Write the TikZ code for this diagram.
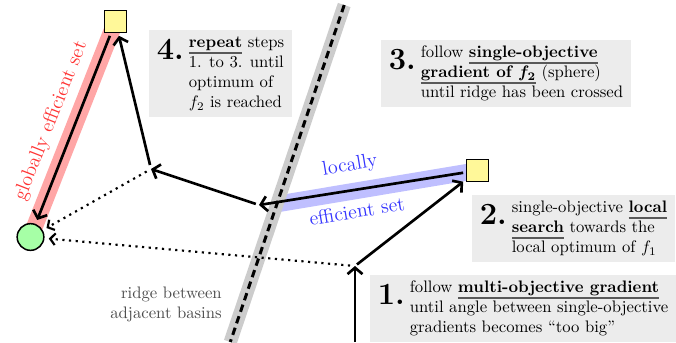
\documentclass[tikz,border=0pt]{standalone}
\usetikzlibrary{arrows.meta}
\definecolor{ylw}{RGB}{255,248,153}
\definecolor{grn}{RGB}{166,255,166}
\definecolor{boxgray}{RGB}{236,236,236}
\newsavebox\kwbox
\newcommand\stepnum[1]{\raisebox{-7.2pt}{\fontsize{18.5pt}{20pt}\selectfont\bfseries #1}}
\newcommand\kw[1]{\sbox\kwbox{\textbf{#1}}\rlap{\color{black!65}\rule[-3.6pt]{\wd\kwbox}{0.8pt}}\usebox\kwbox}
\begin{document}
\begin{tikzpicture}[x=0.6pt,y=-0.6pt,
  box/.style={fill=boxgray, inner xsep=4.5pt, inner ysep=2pt, anchor=north west, align=left},
  arr/.style={line width=1.6pt, -{Straight Barb[length=3.8pt,width=9pt]}},
  dotarr/.style={line width=1.3pt, dash pattern=on 1.3pt off 2.7pt, -{Straight Barb[length=3pt,width=7pt]}},
  sq/.style={draw, line width=0.9pt, fill=ylw, minimum size=13.2pt, inner sep=0pt, outer sep=2pt},
  goal/.style={draw, circle, line width=0.9pt, fill=grn, minimum size=16pt, inner sep=0pt, outer sep=3pt},
  band/.style={line width=10pt}
]
\useasboundingbox (0,0) rectangle (676,342);

% positions
\coordinate (Pb) at (355,342);
\coordinate (P1) at (355,266);
\coordinate (P2) at (259,205);
\coordinate (P3) at (151,169);
\coordinate (bl) at (277,204);
\coordinate (rt) at (344.2,5);
\coordinate (rb) at (230.3,342);

% bands
\draw[band, red!35] (115.5,21.5) -- (30.5,237);
\draw[band, blue!25] (bl) -- (477.5,170.5);

% ridge
\draw[line width=8pt, black!20] (rt) -- (rb);
\draw[line width=1.8pt, dash pattern=on 4.5pt off 2.8pt] (rt) -- (rb);

% markers
\node[sq] (sq1) at (115.5,21.5) {};
\node[sq] (sq2) at (477.5,170.5) {};
\node[goal] (g) at (30.5,237) {};

% arrows
\draw[arr] (Pb) -- (P1);
\draw[arr, shorten <=1.5pt] (P1) -- (sq2);
\draw[arr] (sq2) -- (P2);
\draw[arr, shorten <=2pt] (P2) -- (P3);
\draw[arr, shorten <=2.5pt] (P3) -- (sq1);
\draw[arr] (sq1) -- (g);
\draw[dotarr, shorten <=3pt] (P3) -- (g);
\draw[dotarr, shorten <=3pt] (P1) -- (g);

% labels
\node[text=blue!80, rotate=9.5, font=\large] (loc) at (350,166) {locally};
\node[text=blue!80, rotate=9.5, font=\large] (eff) at (357,211) {efficient set};
\node[text=red!80, rotate=68.5, font=\large] (glob) at (51,121) {globally efficient set};
\node[text=black!70, align=right, anchor=east, inner sep=0pt] (ridge) at (222,304) {ridge between\\adjacent basins};

% step boxes
\node[box] (b4) at (149,30) {\stepnum{4.}\hspace{3pt}\begin{tabular}[t]{@{}l@{}}\kw{repeat} steps\\ 1. to 3. until\\ optimum of\\ $f_2$ is reached\end{tabular}};
\node[box] (b3) at (381,40) {\stepnum{3.}\hspace{3pt}\begin{tabular}[t]{@{}l@{}}follow \kw{single-objective}\\ \kw{gradient of \boldmath$f_2$} (sphere)\\ until ridge has been crossed\end{tabular}};
\node[box] (b2) at (472,195) {\stepnum{2.}\hspace{3pt}\begin{tabular}[t]{@{}l@{}}single-objective \kw{local}\\ \kw{search} towards the\\ local optimum of $f_1$\end{tabular}};
\node[box] (b1) at (370,275) {\stepnum{1.}\hspace{3pt}\begin{tabular}[t]{@{}l@{}}follow \kw{multi-objective gradient}\\ until angle between single-objective\\ gradients becomes ``too big''\end{tabular}};
\end{tikzpicture}
\end{document}
